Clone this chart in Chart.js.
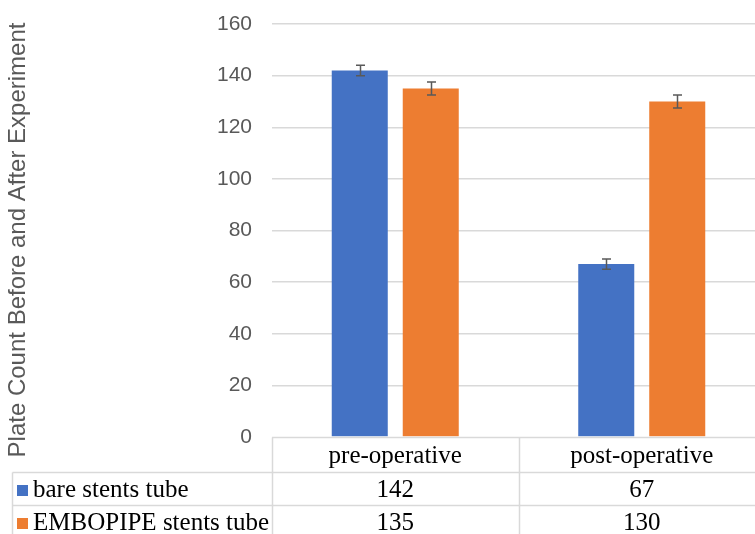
<!DOCTYPE html>
<html>
<head>
<meta charset="utf-8">
<script src="https://cdn.jsdelivr.net/npm/chart.js@4/dist/chart.umd.min.js"></script>
<style>
  html, body { margin: 0; padding: 0; background: #ffffff; overflow: hidden; }
  #wrap { width: 755px; height: 534px; overflow: hidden; position: relative; }
  canvas { display: block; }
</style>
</head>
<body>
<div id="wrap"><canvas id="c" width="766" height="534"></canvas></div>
<script>
// ---- data ----
const categories = ['pre-operative', 'post-operative'];
const seriesNames = ['bare stents tube', 'EMBOPIPE stents tube'];
const bareValues = [142, 67];
const emboValues = [135, 130];
const bareErrors = [2, 2];
const emboErrors = [2.5, 2.5];
const yMin = 0, yMax = 160, yStep = 20;
const yTitle = 'Plate Count Before and After Experiment';

const seriesColors = ['#4472C4', '#ED7D31'];
const gridColor = '#d9d9d9';
const textGrey = '#595959';

const errorBars = {
  id: 'errorBars',
  afterDatasetsDraw(chart) {
    const ctx = chart.ctx;
    const y = chart.scales.y;
    const errs = [bareErrors, emboErrors];
    ctx.save();
    ctx.strokeStyle = '#595959';
    ctx.lineWidth = 1.5;
    chart.data.datasets.forEach((ds, di) => {
      const meta = chart.getDatasetMeta(di);
      meta.data.forEach((bar, i) => {
        const v = ds.data[i], e = errs[di][i];
        const yt = y.getPixelForValue(v + e), yb = y.getPixelForValue(v - e);
        const x = Math.round(bar.x) + 0.5;
        ctx.beginPath();
        ctx.moveTo(x, yt); ctx.lineTo(x, yb);
        ctx.moveTo(x - 4.5, yt); ctx.lineTo(x + 4.5, yt);
        ctx.moveTo(x - 4.5, yb); ctx.lineTo(x + 4.5, yb);
        ctx.stroke();
      });
    });
    ctx.restore();
  }
};

const dataTable = {
  id: 'dataTable',
  afterDraw(chart) {
    const ctx = chart.ctx;
    const xs = chart.scales.x;
    const a = chart.chartArea;
    const top = Math.round(a.bottom) + 0.5;
    const hdrBottom = top + 35;
    const row1Bottom = hdrBottom + 33;
    const bottom = chart.height + 5;
    const left = a.left;
    const right = a.right;
    const tableLeft = 12.5;
    const catWidth = (xs.right - xs.left) / categories.length;
    ctx.save();
    ctx.strokeStyle = gridColor;
    ctx.lineWidth = 1.5;
    ctx.beginPath();
    ctx.moveTo(left, top); ctx.lineTo(right, top);
    ctx.moveTo(tableLeft, hdrBottom); ctx.lineTo(right, hdrBottom);
    ctx.moveTo(tableLeft, row1Bottom); ctx.lineTo(right, row1Bottom);
    ctx.moveTo(tableLeft, hdrBottom); ctx.lineTo(tableLeft, bottom);
    for (let i = 0; i <= categories.length; i++) {
      const x = Math.round(xs.left + i * catWidth) + 0.5;
      ctx.moveTo(x, top); ctx.lineTo(x, bottom);
    }
    ctx.stroke();

    ctx.fillStyle = '#000000';
    ctx.font = '25px "Liberation Serif", "Times New Roman", serif';
    ctx.textBaseline = 'middle';
    ctx.textAlign = 'center';
    const rowMid = [top + 19, hdrBottom + 17.5, row1Bottom + 17.5];
    categories.forEach((c, i) => {
      const cx = xs.getPixelForValue(i);
      ctx.fillText(c, cx, rowMid[0]);
      ctx.fillText(String(bareValues[i]), cx, rowMid[1]);
      ctx.fillText(String(emboValues[i]), cx, rowMid[2]);
    });
    ctx.textAlign = 'left';
    seriesNames.forEach((n, i) => {
      ctx.fillStyle = seriesColors[i];
      ctx.fillRect(17, Math.round(rowMid[i + 1]) - 5, 11, 11);
      ctx.fillStyle = '#000000';
      ctx.fillText(n, 33, rowMid[i + 1]);
    });

    // y axis title
    ctx.save();
    ctx.translate(18, 240);
    ctx.rotate(-Math.PI / 2);
    ctx.fillStyle = textGrey;
    ctx.font = '24px "Liberation Sans", Arial, sans-serif';
    ctx.textAlign = 'center';
    ctx.textBaseline = 'middle';
    ctx.fillText(yTitle, 0, 0);
    ctx.restore();
    ctx.restore();
  }
};

new Chart(document.getElementById('c'), {
  type: 'bar',
  data: {
    labels: categories,
    datasets: [
      { label: seriesNames[0], data: bareValues, backgroundColor: seriesColors[0],
        categoryPercentage: 0.576, barPercentage: 0.789 },
      { label: seriesNames[1], data: emboValues, backgroundColor: seriesColors[1],
        categoryPercentage: 0.576, barPercentage: 0.789 }
    ]
  },
  options: {
    responsive: false,
    devicePixelRatio: 1,
    animation: false,
    layout: { padding: { top: 24, left: 0, right: 1, bottom: 0 } },
    plugins: { legend: { display: false }, tooltip: { enabled: false }, title: { display: false } },
    scales: {
      x: {
        ticks: { display: false },
        grid: { display: false },
        border: { display: false },
        afterFit(s) { s.height = 97; s.paddingLeft = 0; s.paddingRight = 0; }
      },
      y: {
        min: yMin, max: yMax,
        ticks: {
          stepSize: yStep,
          color: textGrey,
          padding: 20,
          font: { family: '"Liberation Sans", Arial, sans-serif', size: 21 }
        },
        grid: {
          drawTicks: false,
          color: (c) => c.tick && c.tick.value === 0 ? 'rgba(0,0,0,0)' : gridColor,
          lineWidth: 1.5
        },
        border: { display: false },
        afterFit(s) { s.width = 272; s.paddingTop = 0; s.paddingBottom = 0; }
      }
    }
  },
  plugins: [errorBars, dataTable]
});
</script>
</body>
</html>
